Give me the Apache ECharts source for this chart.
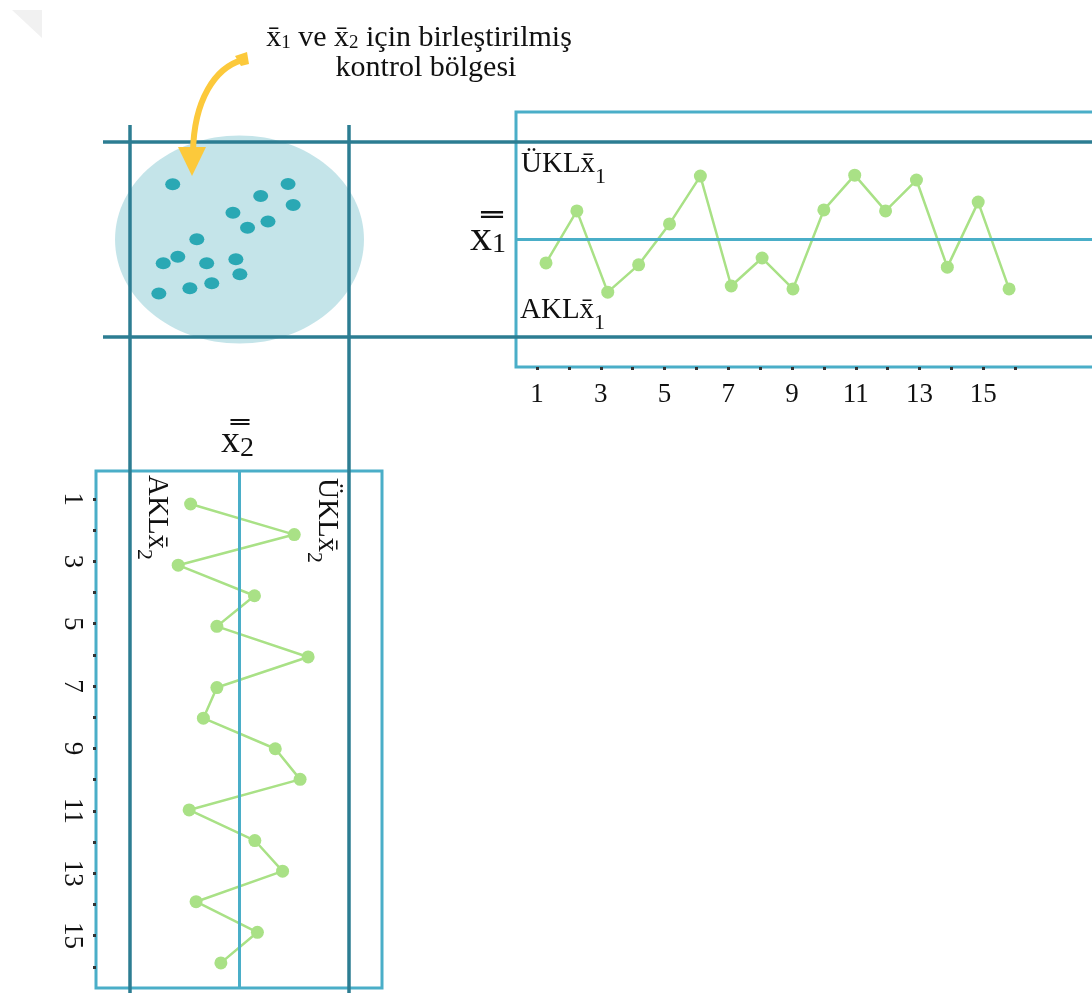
<!DOCTYPE html>
<html><head><meta charset="utf-8">
<script src="https://cdn.jsdelivr.net/npm/echarts@6/dist/echarts.min.js"></script>
<style>html,body{margin:0;padding:0;background:#fff}#c{width:1092px;height:993px}</style>
</head><body><div id="c"></div>
<script>
// ---- data ----
const samples = [1,2,3,4,5,6,7,8,9,10,11,12,13,14,15,16];
const x1Means = [-0.72,0.88,-1.62,-0.78,0.48,1.95,-1.43,-0.57,-1.52,0.91,1.98,0.88,1.83,-0.85,1.15,-1.52];
const x2Means = [-1.34,1.50,-1.68,0.41,-0.62,1.88,-0.62,-0.99,0.98,1.66,-1.38,0.42,1.18,-1.19,0.49,-0.51];
const jointX2 = [-1.83,1.33,0.58,1.47,-0.18,0.78,0.22,-1.17,-1.69,-2.09,-0.90,-0.10,0.01,-0.76,-1.36,-2.21];
const jointX1 = [1.70,1.71,1.34,1.06,0.82,0.55,0.36,0.01,-0.53,-0.73,-0.73,-0.61,-1.07,-1.35,-1.50,-1.66];
const controlLimits = [-3, 0, 3];          // AKL, CL, ÜKL
const regionRadii = [3.41, 3.2];            // joint control region (x̄2, x̄1)
const tickValues = [1,2,3,4,5,6,7,8,9,10,11,12,13,14,15,16];
const tickLabels = [1,3,5,7,9,11,13,15];

const [AKL, CL, UKL] = controlLimits;
const DARK = '#2c7d92', LIGHT = '#4aaec8', GREEN = '#a9e186', TEAL = '#0499a6';
const SERIF = '"Liberation Serif", "DejaVu Serif", serif';

// full-page frame axes (x̄2 horizontally, x̄1 vertically)
const U_MIN = -6.562, U_MAX = 23.356, V_MIN = -23.185, V_MAX = 7.369;

const chart = echarts.init(document.getElementById('c'));

function sub(main, subFs, pad) {
  return {
    a: {fontSize: main, fontFamily: SERIF, fill: '#111'},
    s: {fontSize: subFs, fontFamily: SERIF, fill: '#111', padding: [pad,0,0,0]}
  };
}

const option = {
  animation: false,
  backgroundColor: '#fff',
  grid: [
    {left: 0, top: 0, width: 1092, height: 993, show: false, outerBoundsMode: 'none'},
    {left: 516, top: 112, width: 590, height: 255, show: true, borderColor: LIGHT, borderWidth: 3, backgroundColor: 'transparent', outerBoundsMode: 'none'},
    {left: 96, top: 471, width: 286, height: 517, show: true, borderColor: LIGHT, borderWidth: 3, backgroundColor: 'transparent', outerBoundsMode: 'none'}
  ],
  xAxis: [
    {gridIndex: 0, type: 'value', min: U_MIN, max: U_MAX, show: false},
    {gridIndex: 1, type: 'value', min: 0.028, max: 19.14, show: false},
    {gridIndex: 1, type: 'value', min: 0.341, max: 18.85, position: 'bottom',
      axisLine: {show: false}, splitLine: {show: false},
      axisTick: {show: true, customValues: tickValues, length: 3, lineStyle: {color: '#333', width: 3}},
      axisLabel: {customValues: tickLabels, margin: 14, fontSize: 27, fontFamily: SERIF, color: '#111'}},
    {gridIndex: 2, type: 'value', min: -3.932, max: 3.904, show: false}
  ],
  yAxis: [
    {gridIndex: 0, type: 'value', min: V_MIN, max: V_MAX, show: false},
    {gridIndex: 1, type: 'value', min: -3.923, max: 3.923, show: false},
    {gridIndex: 2, type: 'value', inverse: true, min: -0.078, max: 16.82, show: false},
    {gridIndex: 2, type: 'value', inverse: true, min: 0.102, max: 16.68, position: 'left',
      axisLine: {show: false}, splitLine: {show: false},
      axisTick: {show: true, customValues: tickValues, length: 3, lineStyle: {color: '#333', width: 3}},
      axisLabel: {customValues: tickLabels, rotate: -90, margin: 10, fontSize: 27, fontFamily: SERIF, color: '#111'}}
  ],
  series: [
    {
      type: 'custom', xAxisIndex: 0, yAxisIndex: 0, z: 1, silent: true,
      data: [[0, 0, regionRadii[0], regionRadii[1]]],
      renderItem: function (params, api) {
        const c = api.coord([api.value(0), api.value(1)]);
        const s = api.size([api.value(2), api.value(3)]);
        return {type: 'ellipse', shape: {cx: c[0], cy: c[1], rx: s[0], ry: s[1]}, style: {fill: '#c4e4e9'}};
      }
    },
    {
      type: 'scatter', xAxisIndex: 0, yAxisIndex: 0, z: 3, silent: true,
      symbol: 'circle', symbolSize: [15, 12],
      itemStyle: {color: TEAL},
      data: jointX2.map((u, i) => [u, jointX1[i]]),
      markLine: {
        silent: true, symbol: 'none', animation: false,
        label: {show: false},
        lineStyle: {color: DARK, width: 3.5, type: 'solid'},
        data: [
          [{coord: [-3.74, UKL]}, {coord: [U_MAX, UKL]}],
          [{coord: [-3.74, AKL]}, {coord: [U_MAX, AKL]}],
          [{coord: [AKL, 3.52]}, {coord: [AKL, V_MIN]}],
          [{coord: [UKL, 3.52]}, {coord: [UKL, V_MIN]}]
        ]
      }
    },
    {
      type: 'line', xAxisIndex: 1, yAxisIndex: 1, z: 4, silent: true,
      data: samples.map((s, i) => [s, x1Means[i]]),
      symbol: 'circle', symbolSize: 13, showSymbol: true,
      itemStyle: {color: GREEN}, lineStyle: {color: GREEN, width: 2.5},
      markLine: {silent: true, symbol: 'none', label: {show: false},
        lineStyle: {color: LIGHT, width: 3, type: 'solid'}, data: [{yAxis: CL}]}
    },
    {
      type: 'line', xAxisIndex: 3, yAxisIndex: 2, z: 4, silent: true,
      data: samples.map((s, i) => [x2Means[i], s]),
      symbol: 'circle', symbolSize: 13, showSymbol: true,
      itemStyle: {color: GREEN}, lineStyle: {color: GREEN, width: 2.5},
      markLine: {silent: true, symbol: 'none', label: {show: false},
        lineStyle: {color: LIGHT, width: 3, type: 'solid'}, data: [{xAxis: CL}]}
    }
  ],
  graphic: [
    // faint page artifact top-left
    {type: 'polygon', silent: true, z: 0, shape: {points: [[12,10],[42,10],[42,38]]}, style: {fill: '#f1f1f1'}},
    // arrow
    {type: 'bezierCurve', silent: true, z: 50,
      shape: {x1: 242, y1: 60, cpx1: 215, cpy1: 68, cpx2: 194, cpy2: 100, x2: 193, y2: 152},
      style: {stroke: '#fcc93b', lineWidth: 6, fill: null}},
    {type: 'polygon', silent: true, z: 50, shape: {points: [[178,147],[206,147],[192,176]]}, style: {fill: '#fcc93b'}},
    {type: 'polygon', silent: true, z: 50, shape: {points: [[235,56],[247,52],[249,64],[241,66]]}, style: {fill: '#fcc93b'}},
    // title
    {type: 'text', silent: true, z: 60, x: 419, y: 38,
      style: {text: '{a|x\u0304}{s|1}{a| ve x\u0304}{s|2}{a| için birleştirilmiş}', align: 'center', verticalAlign: 'middle',
        rich: sub(30, 19, 10)}},
    {type: 'text', silent: true, z: 60, x: 426, y: 68,
      style: {text: 'kontrol bölgesi', align: 'center', verticalAlign: 'middle', font: '30px ' + SERIF, fill: '#111'}},
    // top chart labels
    {type: 'text', silent: true, z: 60, x: 521, y: 164,
      style: {text: '{a|ÜKLx\u0304}{s|1}', align: 'left', verticalAlign: 'middle', rich: sub(29, 22, 26)}},
    {type: 'text', silent: true, z: 60, x: 520, y: 310,
      style: {text: '{a|AKLx\u0304}{s|1}', align: 'left', verticalAlign: 'middle', rich: sub(29, 22, 26)}},
    {type: 'text', silent: true, z: 60, x: 470, y: 238,
      style: {text: '{a|x\u033F}{s|1}', align: 'left', verticalAlign: 'middle', rich: sub(44, 28, 14)}},
    {type: 'text', silent: true, z: 60, x: 221, y: 442,
      style: {text: '{a|x\u033F}{s|2}', align: 'left', verticalAlign: 'middle', rich: sub(38, 28, 14)}},
    // bottom chart rotated labels
    {type: 'text', silent: true, z: 60, x: 157, y: 475, rotation: -Math.PI / 2,
      style: {text: '{a|AKLx\u0304}{s|2}', align: 'left', verticalAlign: 'middle', rich: sub(29, 22, 26)}},
    {type: 'text', silent: true, z: 60, x: 327, y: 478, rotation: -Math.PI / 2,
      style: {text: '{a|ÜKLx\u0304}{s|2}', align: 'left', verticalAlign: 'middle', rich: sub(29, 22, 26)}}
  ]
};
chart.setOption(option);
</script></body></html>
